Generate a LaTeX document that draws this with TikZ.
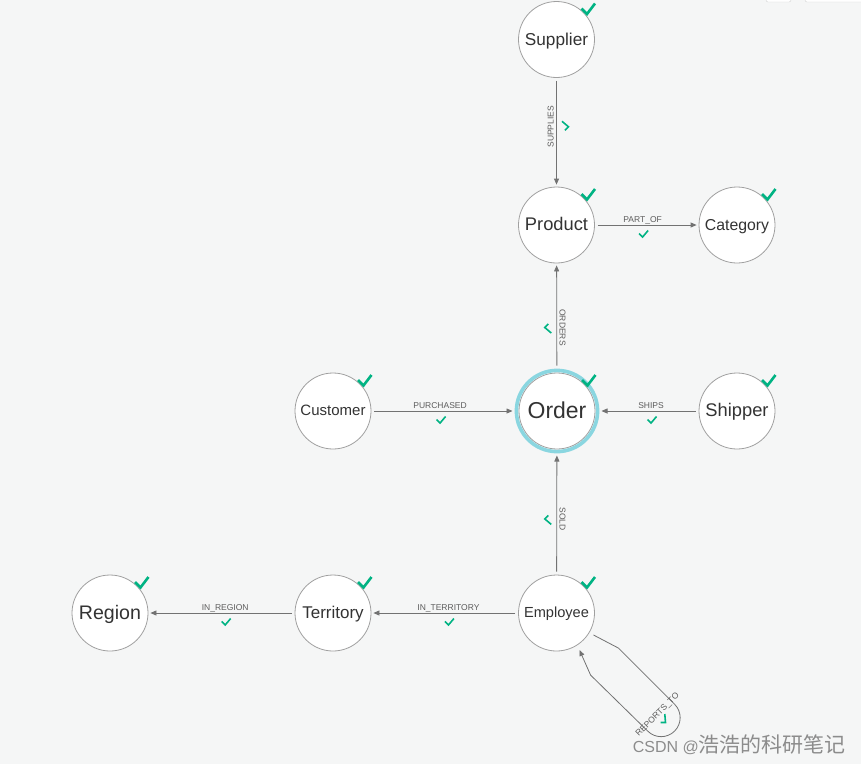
\documentclass[tikz,border=0pt]{standalone}
\usepackage{fontspec}
\setmainfont{Liberation Sans}
\newfontfamily\cjkfont{Noto Sans CJK SC}
\usetikzlibrary{arrows.meta}

\definecolor{bgcol}{HTML}{F5F6F6}
\definecolor{ringcol}{HTML}{8AD6E0}
\definecolor{tickcol}{HTML}{00B383}
\definecolor{relcol}{HTML}{727272}
\definecolor{nodeline}{HTML}{A0A0A0}
\definecolor{nodetext}{HTML}{333333}
\definecolor{labcol}{HTML}{5C5C5C}
\definecolor{wmcol}{HTML}{8C8C8C}

\newcommand\nodefont[1]{\fontsize{#1}{#1}\selectfont}

\tikzset{
  entity/.style={circle, draw=nodeline, fill=white, line width=0.8pt, minimum size=76pt, inner sep=0pt, text=nodetext},
  entfont/.style={font=\nodefont{#1}, text height=0.8*#1pt, text depth=0.16*#1pt},
  rel/.style={draw=relcol, line width=0.8pt, -{Triangle[length=6pt,width=5pt]}, shorten <=3pt, shorten >=2pt},
  lbl/.style={font=\nodefont{8.5}, text=labcol, inner sep=2.5pt, text height=6.2pt, text depth=0pt},
  bigtick/.pic={\draw[tickcol, line width=2.6pt] (-5.5,-5.5) -- (0,0) -- (8,-10.5);},
  smalltick/.pic={\draw[tickcol, line width=1.6pt] (-3.5,8.5) -- (0,12) -- (5.5,5.5);},
}

\begin{document}
\begin{tikzpicture}[x=1pt,y=-1pt]
%background, page size 861 x 764
\fill[bgcol] (0,0) rectangle (861,764);
\useasboundingbox (0,0) rectangle (861,764);

%Shape: buttons at the top edge
\draw[gray!35, fill=white, rounded corners=2pt] (766,-8) rectangle (791,2);
\draw[gray!35, fill=white, rounded corners=2pt] (805,-8) rectangle (870,2);

% Nodes
\node[entity, entfont=17.2] (supplier) at (556.5,39.5) {Supplier};
\node[entity, entfont=18.3] (product) at (556.5,225) {Product};
\node[entity, entfont=15.8] (category) at (737,225) {Category};
\node[entity, entfont=15] (customer) at (333,411) {Customer};
\node[entity, entfont=23, outer sep=4.5pt] (order) at (557,411) {Order};
\node[entity, entfont=18.3] (shipper) at (737,411) {Shipper};
\node[entity, entfont=19.6] (region) at (110,613) {Region};
\node[entity, entfont=17] (territory) at (333,613) {Territory};
\node[entity, entfont=14.6] (employee) at (556.5,613) {Employee};

% selection ring of Order
\draw[ringcol, line width=3.6pt] (order.center) circle (40.6);

% Node ticks
\foreach \n in {supplier,product,category,customer,order,shipper,region,territory,employee}
  \pic at ([shift={(30.5,-25.5)}]\n.center) {bigtick};

% Relationships
\draw[rel] (supplier) -- (product) node[lbl, pos=0.45, rotate=90, above] {SUPPLIES} coordinate[pos=0.45] (m1);
\draw[rel] (product) -- (category) node[lbl, pos=0.46, above] {PART\_OF} coordinate[pos=0.46] (m2);
\draw[rel] (order) -- (product) node[lbl, pos=0.39, rotate=-90, above] {ORDERS} coordinate[pos=0.39] (m3);
\draw[rel] (customer) -- (order) node[lbl, pos=0.48, above] {PURCHASED} coordinate[pos=0.48] (m4);
\draw[rel] (shipper) -- (order) node[lbl, pos=0.48, above] {SHIPS} coordinate[pos=0.48] (m5);
\draw[rel] (employee) -- (order) node[lbl, pos=0.46, rotate=-90, above] {SOLD} coordinate[pos=0.46] (m6);
\draw[rel] (territory) -- (region) node[lbl, pos=0.475, above] {IN\_REGION} coordinate[pos=0.475] (m7);
\draw[rel] (employee) -- (territory) node[lbl, pos=0.475, above] {IN\_TERRITORY} coordinate[pos=0.475] (m8);

% self loop REPORTS_TO
\begin{scope}[shift={(employee.center)}, rotate=-45]
\draw[rel, shorten <=0pt, shorten >=0pt] (41.7,-10.6) -- (68.6,-19) -- (148,-19) arc[start angle=-90, end angle=90, radius=19] -- (68,19.8) -- (42.4,9.9);
\end{scope}
\node[lbl, rotate=45] (m9) at (657,714) {REPORTS\_TO};

% Relationship ticks
\foreach \m/\r in {m1/90,m2/0,m3/-90,m4/0,m5/0,m6/-90,m7/0,m8/0,m9/45}
  \pic[rotate=\r] at (\m) {smalltick};

% Text Node
\node[anchor=base east, text=wmcol, inner sep=0pt] (wm) at (846,752) {\nodefont{16}CSDN @\cjkfont\nodefont{21}浩浩的科研笔记};

\end{tikzpicture}
\end{document}
